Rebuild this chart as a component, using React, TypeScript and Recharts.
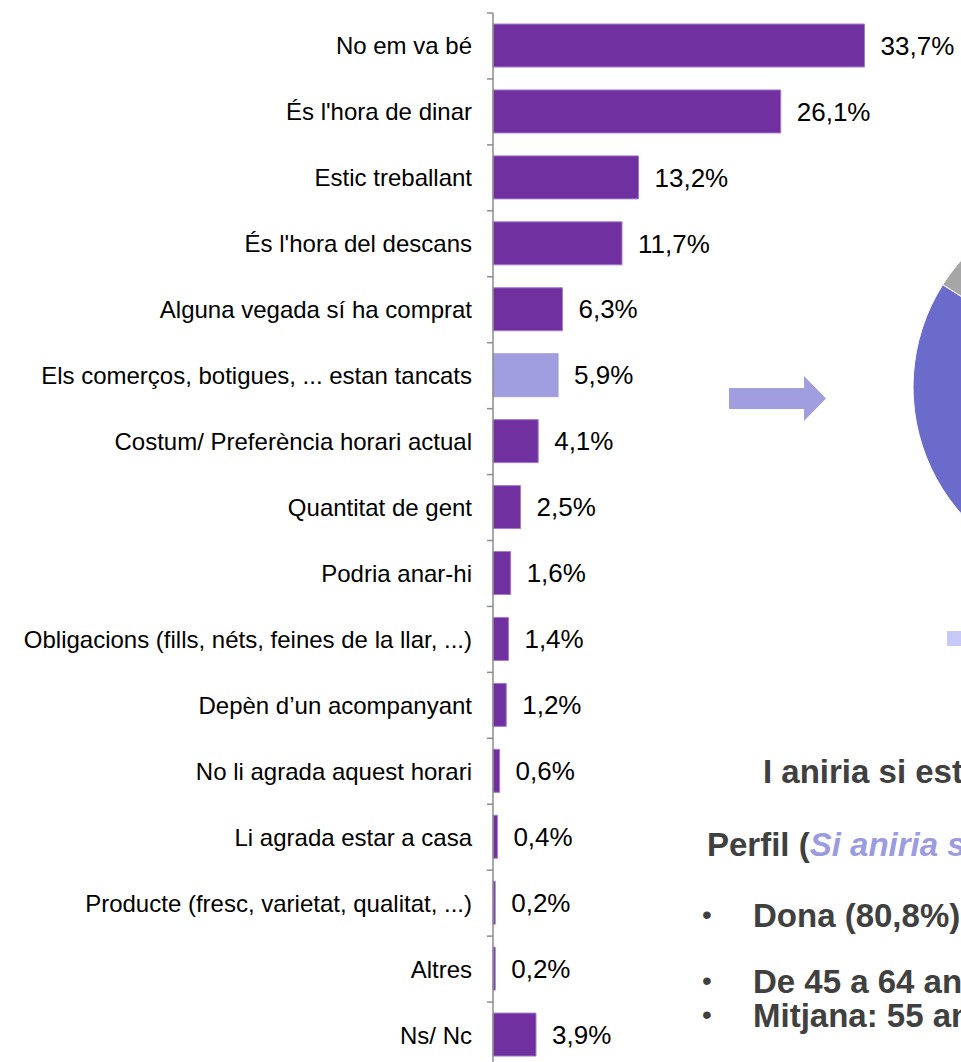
import React from 'react';
import { BarChart, Bar, XAxis, YAxis, Cell, LabelList, PieChart, Pie } from 'recharts';

const categories = [
  'No em va bé',
  "És l'hora de dinar",
  'Estic treballant',
  "És l'hora del descans",
  'Alguna vegada sí ha comprat',
  'Els comerços, botigues, ... estan tancats',
  'Costum/ Preferència horari actual',
  'Quantitat de gent',
  'Podria anar-hi',
  'Obligacions (fills, néts, feines de la llar, ...)',
  'Depèn d’un acompanyant',
  'No li agrada aquest horari',
  'Li agrada estar a casa',
  'Producte (fresc, varietat, qualitat, ...)',
  'Altres',
  'Ns/ Nc',
];
const values = [33.7, 26.1, 13.2, 11.7, 6.3, 5.9, 4.1, 2.5, 1.6, 1.4, 1.2, 0.6, 0.4, 0.2, 0.2, 3.9];
const highlighted = ['Els comerços, botigues, ... estan tancats'];

// pie on the right edge, mostly cut off (values estimated from the visible arc)
const pieLabels = ['Sí', 'No', 'Ns/Nc'];
const pieValues = [52, 32, 16];
const pieColors = ['#C8C8F8', '#6B6BCB', '#A6A6A6'];

const W = 961;
const H = 1062;
const CHART_H = 1068;
const TOP = 13;
const AXIS_X = 493;
const BAND = (CHART_H - TOP) / categories.length;
const FONT = "'Liberation Sans', Arial, sans-serif";

const BAR = '#7030A0';
const HILITE = '#A09EDE';

const data = categories.map((name, i) => ({ name, value: values[i] }));
const pieData = pieLabels.map((name, i) => ({ name, value: pieValues[i] }));

const fmt = (v: any) => Number(v).toFixed(1).replace('.', ',') + '%';

const CatTick = (props: any) => {
  const { y, payload, index } = props;
  return (
    <g>
      <text
        x={AXIS_X - 21}
        y={y}
        textAnchor="end"
        dominantBaseline="central"
        fontSize={24}
        fontFamily={FONT}
        fill="#000"
      >
        {payload.value}
      </text>
      <line x1={AXIS_X - 6} x2={AXIS_X} y1={y - BAND / 2} y2={y - BAND / 2} stroke="#8C8C8C" strokeWidth={1.5} />
      {index === categories.length - 1 && (
        <line x1={AXIS_X - 6} x2={AXIS_X} y1={y + BAND / 2} y2={y + BAND / 2} stroke="#8C8C8C" strokeWidth={1.5} />
      )}
    </g>
  );
};

const PieLabel = (props: any) => {
  const { cx, cy, midAngle, outerRadius, index, value } = props;
  if (index !== 1) return null;
  const r = outerRadius * 0.63;
  const rad = (Math.PI / 180) * midAngle;
  return (
    <text
      x={cx + r * Math.cos(rad)}
      y={cy - r * Math.sin(rad)}
      textAnchor="middle"
      dominantBaseline="central"
      fontSize={24}
      fontFamily={FONT}
      fill="#000"
    >
      {fmt(value)}
    </text>
  );
};

export default function App() {
  return (
    <div style={{ position: 'absolute', left: 0, top: 0, width: W, height: H, overflow: 'hidden', background: '#fff' }}>
      <div style={{ position: 'absolute', left: 0, top: 0 }}>
        <BarChart
          width={W}
          height={CHART_H}
          data={data}
          layout="vertical"
          margin={{ top: TOP, right: 27, left: 0, bottom: 0 }}
          barSize={43}
        >
          <XAxis type="number" domain={[0, 40]} hide />
          <YAxis
            type="category"
            dataKey="name"
            width={AXIS_X}
            interval={0}
            tickLine={false}
            axisLine={{ stroke: '#8C8C8C', strokeWidth: 1.5 }}
            tick={<CatTick />}
          />
          <Bar dataKey="value" isAnimationActive={false} stroke="#A27ACF" strokeWidth={1}>
            {data.map((d, i) => (
              <Cell key={`c-${i}`} fill={highlighted.includes(d.name) ? HILITE : BAR} stroke={highlighted.includes(d.name) ? HILITE : '#A27ACF'} />
            ))}
            <LabelList
              dataKey="value"
              position="right"
              offset={16}
              formatter={fmt}
              fill="#000"
              fontSize={26}
              fontFamily={FONT}
            />
          </Bar>
        </BarChart>
      </div>

      <div style={{ position: 'absolute', left: 899, top: 182 }}>
        <PieChart width={400} height={400}>
          <Pie
            data={pieData}
            dataKey="value"
            cx={200}
            cy={200}
            outerRadius={191}
            startAngle={90}
            endAngle={-270}
            stroke="#fff"
            strokeWidth={1}
            label={<PieLabel />}
            labelLine={false}
            isAnimationActive={false}
          >
            {pieData.map((d, i) => (
              <Cell key={`p-${i}`} fill={pieColors[i]} />
            ))}
          </Pie>
        </PieChart>
      </div>

      <div style={{ position: 'absolute', left: 947, top: 631, width: 16, height: 15, background: pieColors[0] }} />

      <svg width={W} height={H} style={{ position: 'absolute', left: 0, top: 0, pointerEvents: 'none' }}>
        <polygon points="729,388 804,388 804,376 826,398.5 804,421 804,409 729,409" fill="#A09EDE" />
        <g fontFamily={FONT} fontWeight="bold" fontSize={33} fill="#404040">
          <text x={763} y={783}>I aniria si estigués obert?</text>
          <text x={707} y={856}>
            Perfil (
            <tspan fill="#9B9BE0" fontStyle="italic">Si aniria si estigués obert</tspan>)
          </text>
          <text x={753} y={927}>Dona (80,8%)</text>
          <text x={753} y={993}>De 45 a 64 anys</text>
          <text x={753} y={1027}>Mitjana: 55 anys</text>
        </g>
        <g fontFamily={FONT} fontSize={28} fill="#404040">
          <text x={702} y={924}>•</text>
          <text x={702} y={990}>•</text>
          <text x={702} y={1024}>•</text>
        </g>
      </svg>
    </div>
  );
}
